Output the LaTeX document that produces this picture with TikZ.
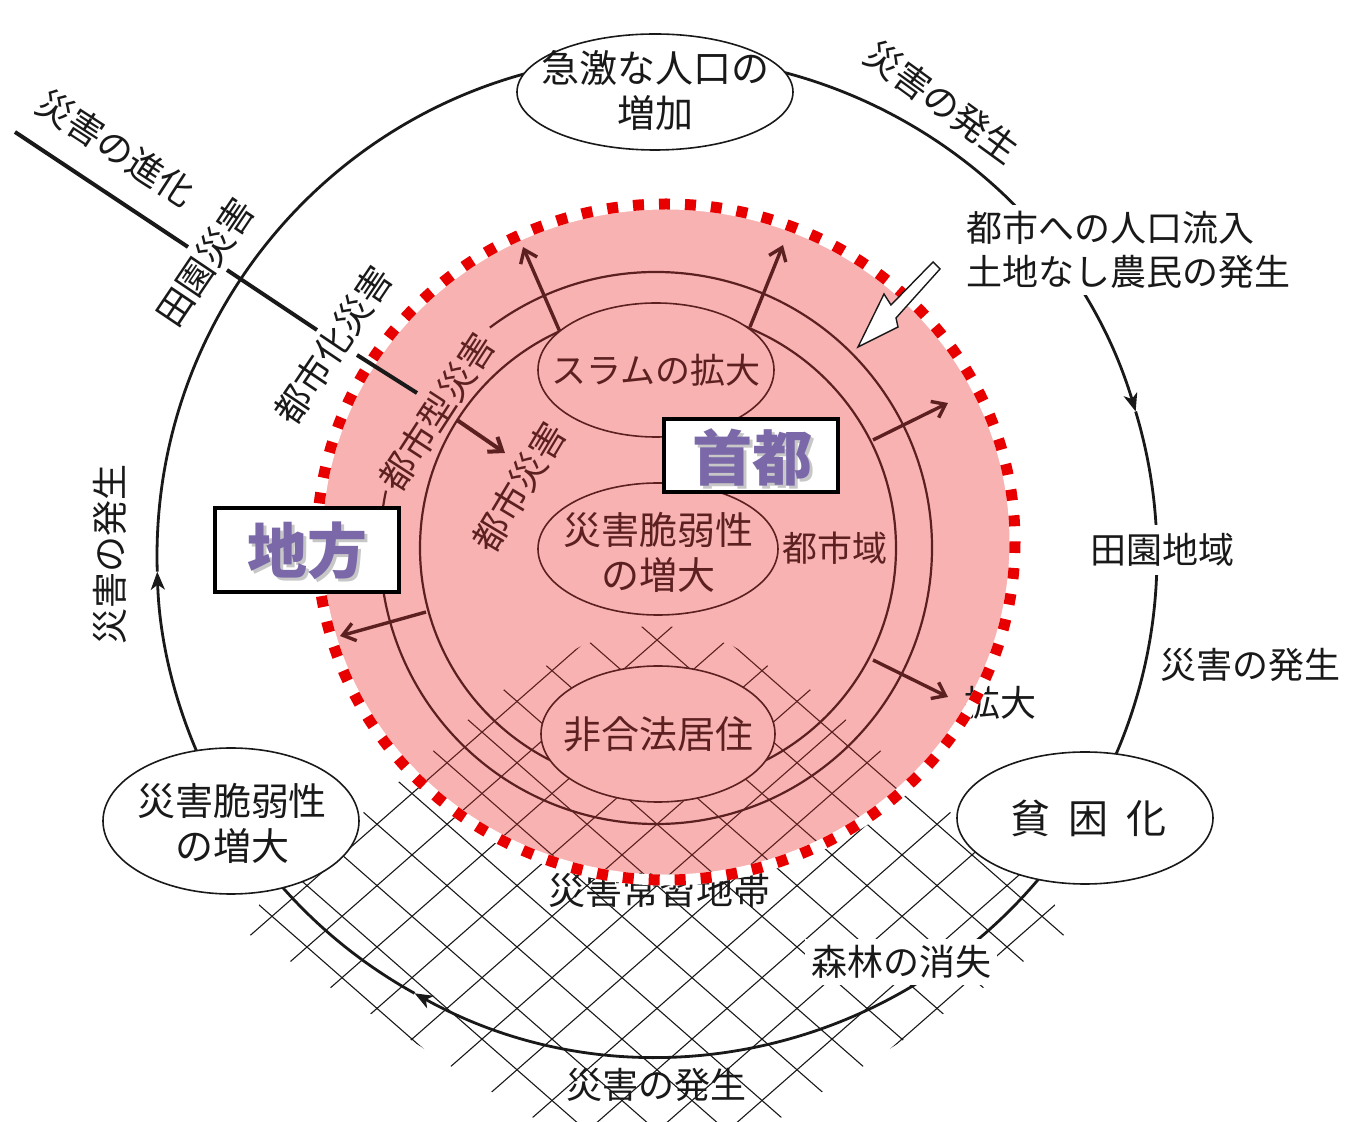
\documentclass[tikz,border=0pt]{standalone}
\usepackage{fontspec}
\newfontfamily\jp{Noto Sans CJK JP}
\usetikzlibrary{arrows.meta,calc}
\definecolor{pinkfill}{RGB}{248,178,178}
\definecolor{dotred}{RGB}{232,0,0}
\definecolor{brn}{RGB}{92,32,32}
\definecolor{purp}{RGB}{122,104,168}
\definecolor{ink}{RGB}{25,25,25}
\begin{document}
\begin{tikzpicture}[x=0.5pt,y=-0.5pt,
  lbl/.style={font=\jp\fontsize{18}{22}\selectfont, text=ink, inner sep=1pt},
  ilbl/.style={lbl, text=brn},
  cyc/.style={draw=ink, line width=1.4pt},
  cyctip/.style={-{Stealth[length=9pt,width=7pt,inset=2.5pt]}},
  ringline/.style={draw=brn, line width=1.1pt},
  growarrow/.style={draw=brn, line width=1.7pt, -{Straight Barb[length=6pt,width=9pt]}},
  evoline/.style={draw=ink, line width=2pt},
  hatchline/.style={line width=0.55pt},
  tagbox/.style={draw=black, line width=2pt, fill=white},
  bigtxt/.style={font=\jp\bfseries\fontsize{30}{30}\selectfont, text=purp, inner sep=0pt},
  shadowtxt/.style={font=\jp\bfseries\fontsize{30}{30}\selectfont, text=black, opacity=0.22, inner sep=0pt},
  outell/.style={draw=ink, line width=0.8pt, fill=white},
  inell/.style={draw=brn, line width=0.8pt, fill=pinkfill},
]
\useasboundingbox (0,0) rectangle (1346,1122);
\fill[white] (0,0) rectangle (1346,1122);

\coordinate (C) at (657,556);
\coordinate (R) at (656,548);
\coordinate (D) at (666,542);

% ---------- hatch (outside, black) ----------
\begin{scope}
\clip (657,622) -- (583,645) -- (498,693) -- (393,787) -- (260,902) -- (250,935) -- (452,1067) -- (657,1195) -- (862,1067) -- (1064,935) -- (1054,902) -- (921,787) -- (816,693) -- (731,645) -- cycle;
\foreach \k in {-17,...,17}{
  \draw[hatchline,draw=ink] ({657+70*\k-700},26) -- ({657+70*\k+700},1254);
  \draw[hatchline,draw=ink] ({657+70*\k+700},26) -- ({657+70*\k-700},1254);
}
\end{scope}

% ---------- pink capital region ----------
\fill[pinkfill] (D) ellipse [x radius=349, y radius=338];
\begin{scope}
\clip (D) ellipse [x radius=349, y radius=338];
\clip (657,622) -- (583,645) -- (498,693) -- (393,787) -- (260,902) -- (250,935) -- (452,1067) -- (657,1195) -- (862,1067) -- (1064,935) -- (1054,902) -- (921,787) -- (816,693) -- (731,645) -- cycle;
\foreach \k in {-17,...,17}{
  \draw[hatchline,draw=brn] ({657+70*\k-700},26) -- ({657+70*\k+700},1254);
  \draw[hatchline,draw=brn] ({657+70*\k+700},26) -- ({657+70*\k-700},1254);
}
\end{scope}

% rings
\draw[ringline] (R) ++(-127:276) arc[start angle=-127, end angle=192, radius=276];
\draw[ringline] (658,548) circle [radius=238];

% growth arrows
\coordinate (g1s) at (560,332); \coordinate (g1e) at (523,247);
\coordinate (g2s) at (750,327); \coordinate (g2e) at (783,245);
\coordinate (g3s) at (873,440); \coordinate (g3e) at (948,403);
\coordinate (g4s) at (873,660); \coordinate (g4e) at (948,697);
\coordinate (g5s) at (426,612); \coordinate (g5e) at (340,636);
\draw[growarrow] (g1s) -- (g1e);
\draw[growarrow] (g2s) -- (g2e);
\draw[growarrow] (g3s) -- (g3e);
\draw[growarrow] (g4s) -- (g4e);
\draw[growarrow] (g5s) -- (g5e);

% inner ellipses
\path[inell] (656,370) ellipse [x radius=118, y radius=67];
\node[ilbl, font=\jp\fontsize{17.5}{22}\selectfont] (slum) at (656,370) {スラムの拡大};
\path[inell] (658,549) ellipse [x radius=120, y radius=66];
\node[ilbl, align=center, font=\jp\fontsize{19}{22.5}\selectfont] (vulc) at (658,552) {災害脆弱性\\の増大};
\path[inell] (658,734) ellipse [x radius=117, y radius=68];
\node[ilbl, font=\jp\fontsize{19}{22}\selectfont] (illegal) at (658,734) {非合法居住};

\node[ilbl, font=\jp\fontsize{17.5}{22}\selectfont] (urbanarea) at (835,548) {都市域};
\node[ilbl, rotate=57] (utype) at (437,412) {都市型災害};
\node[ilbl, rotate=59] (udis) at (519,487) {都市災害};

% labels under the dotted border
\node[lbl] (expand) at (1000,703) {拡大};
\node[lbl, font=\jp\fontsize{18.5}{22}\selectfont] (zone) at (659,890) {災害常習地帯};

% dotted border
\draw[white, line width=5.5pt] (D) ellipse [x radius=349, y radius=338];
\draw[dotred, line width=5.5pt, dash pattern=on 5.5pt off 7.5pt] (D) ellipse [x radius=349, y radius=338];

% white block arrow (inflow)
\path[draw=ink, line width=0.7pt, fill=white] (933,262) -- (891,305) -- (884,294) -- (858,347) -- (898,327) -- (896,318) -- (940,269) -- cycle;

% evolution line
\coordinate (e0) at (15,132);  \coordinate (e1) at (188,247);
\coordinate (e2) at (227,270); \coordinate (e3) at (317,330);
\coordinate (e4) at (357,355); \coordinate (e5) at (417,393);
\coordinate (e6) at (457,420); \coordinate (e7) at (505,453);
\draw[evoline] (e0) -- (e1);
\draw[evoline] (e2) -- (e3);
\draw[evoline] (e4) -- (e5);
\draw[evoline, draw=brn, -{Straight Barb[length=6pt,width=9pt]}] (e6) -- (e7);
\node[lbl, rotate=-33] (evolab) at (116,148) {災害の進化};
\node[lbl, rotate=56] (rural) at (205,262) {田園災害};
\node[lbl, rotate=56] (urbz) at (333,345) {都市化災害};

% tag boxes
\node[tagbox, minimum width=92pt, minimum height=42pt] (localbox) at (306.5,550) {};
\node[shadowtxt] (localsh) at (310,554) {地方};
\node[bigtxt] (localtxt) at (307,551) {地方};
\node[tagbox, minimum width=87pt, minimum height=36.5pt] (capbox) at (751,455.5) {};
\node[shadowtxt] (capsh) at (755,460) {首都};
\node[bigtxt] (captxt) at (752,457) {首都};

% ---------- outer cycle ----------
\draw[cyc,cyctip] (C) ++(-80:500) arc[start angle=-80, end angle=-16.8, radius=500];
\draw[cyc] (C) ++(-16.8:500) arc[start angle=-16.8, end angle=30, radius=500];
\draw[cyc,cyctip] (C) ++(38:500) arc[start angle=38, end angle=119, radius=500];
\draw[cyc] (C) ++(119:500) arc[start angle=119, end angle=142, radius=500];
\draw[cyc,cyctip] (C) ++(150:500) arc[start angle=150, end angle=178.2, radius=500];
\draw[cyc] (C) ++(178.2:500) arc[start angle=178.2, end angle=262, radius=500];

\path[outell] (655,92) ellipse [x radius=138, y radius=58];
\node[lbl, align=center, font=\jp\fontsize{19}{22.5}\selectfont] (pop) at (655,91) {急激な人口の\\増加};
\path[outell] (1085,818) ellipse [x radius=128, y radius=66];
\node[lbl, font=\jp\fontsize{20}{22}\selectfont] (poverty) at (1088,818) {貧\hspace{9pt}困\hspace{9pt}化};
\path[outell] (231,821) ellipse [x radius=128, y radius=73];
\node[lbl, align=center, font=\jp\fontsize{19}{22.5}\selectfont] (vulo) at (232,823) {災害脆弱性\\の増大};

\node[lbl, fill=white, anchor=west, align=left, inner sep=3pt] (inflow) at (960,250) {都市への人口流入\\土地なし農民の発生};
\node[lbl, fill=white, inner sep=4pt] (ruralarea) at (1162,550) {田園地域};
\node[lbl, fill=white, inner sep=3pt] (forest) at (901,962) {森林の消失};

\node[lbl, rotate=-36] (occ1) at (942,102) {災害の発生};
\node[lbl] (occ2) at (1250,665) {災害の発生};
\node[lbl] (occ3) at (656,1085) {災害の発生};
\node[lbl, rotate=90] (occ4) at (110,555) {災害の発生};
\end{tikzpicture}
\end{document}
